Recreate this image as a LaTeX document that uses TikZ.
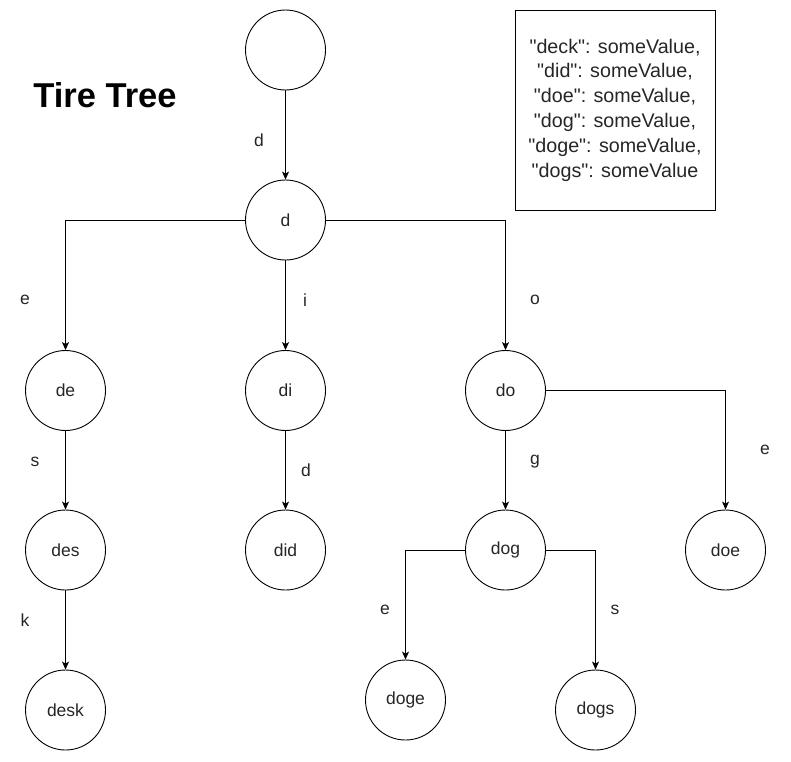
\documentclass[tikz,border=0pt]{standalone}
\usepackage{fontspec}
\setmainfont{Liberation Sans}
\usetikzlibrary{arrows.meta}
\definecolor{txt}{HTML}{262626}
\newcommand\qmark{\textquotedbl}
\tikzset{
  trie/.style={circle,draw=black,line width=0.9pt,minimum size=80pt,inner sep=0pt,
    text=txt,font=\fontsize{17.5}{20}\selectfont},
  lbl/.style={text=txt,font=\fontsize{17.5}{20}\selectfont,inner sep=0pt},
  arr/.style={line width=0.9pt,-{Stealth[length=8pt,width=7pt,inset=2pt]}}
}
\begin{document}
\begin{tikzpicture}[x=1pt,y=-1pt]
\useasboundingbox (0,0) rectangle (791,761);
% title
\node[font=\bfseries\fontsize{34.5}{40}\selectfont,inner sep=0pt] (title) at (105,95) {Tire Tree};
% value box
\node[draw=black,line width=0.9pt,minimum width=200pt,minimum height=200pt,inner sep=0pt,
  align=center,text=txt,font=\fontsize{19.7}{24.8}\selectfont] (box) at (615,110)
  {\qmark deck\qmark: someValue,\\ \qmark did\qmark: someValue,\\ \qmark doe\qmark: someValue,\\ \qmark dog\qmark: someValue,\\ \qmark doge\qmark: someValue,\\ \qmark dogs\qmark: someValue};
% nodes
\node[trie] (root) at (285.5,50) {};
\node[trie] (d) at (285.5,220) {d};
\node[trie] (de) at (65.5,390.5) {de};
\node[trie] (di) at (285.5,390.5) {di};
\node[trie] (do) at (505.5,390.5) {do};
\node[trie] (des) at (65.5,550) {des};
\node[trie] (did) at (285.5,550) {did};
\node[trie] (dog) at (505.5,550) {dog};
\node[trie] (doe) at (725.5,550) {doe};
\node[trie] (desk) at (65.5,710) {desk};
\node[trie] (doge) at (405.5,700) {doge};
\node[trie] (dogs) at (595.5,710) {dogs};
% connectors
\draw[arr] (root) -- (d);
\draw[arr] (d.west) -| (de.north);
\draw[arr] (d) -- (di);
\draw[arr] (d.east) -| (do.north);
\draw[arr] (de) -- (des);
\draw[arr] (des) -- (desk);
\draw[arr] (di) -- (did);
\draw[arr] (do) -- (dog);
\draw[arr] (do.east) -| (doe.north);
\draw[arr] (dog.west) -| (doge.north);
\draw[arr] (dog.east) -| (dogs.north);
% edge labels
\node[lbl] (l1) at (259,140) {d};
\node[lbl] (l2) at (25,300) {e};
\node[lbl] (l3) at (305,300) {i};
\node[lbl] (l4) at (535,300) {o};
\node[lbl] (l5) at (35,462) {s};
\node[lbl] (l6) at (306,470) {d};
\node[lbl] (l7) at (535,462) {g};
\node[lbl] (l8) at (765,450) {e};
\node[lbl] (l9) at (25,620) {k};
\node[lbl] (l10) at (385,610) {e};
\node[lbl] (l11) at (615,610) {s};
\end{tikzpicture}
\end{document}
